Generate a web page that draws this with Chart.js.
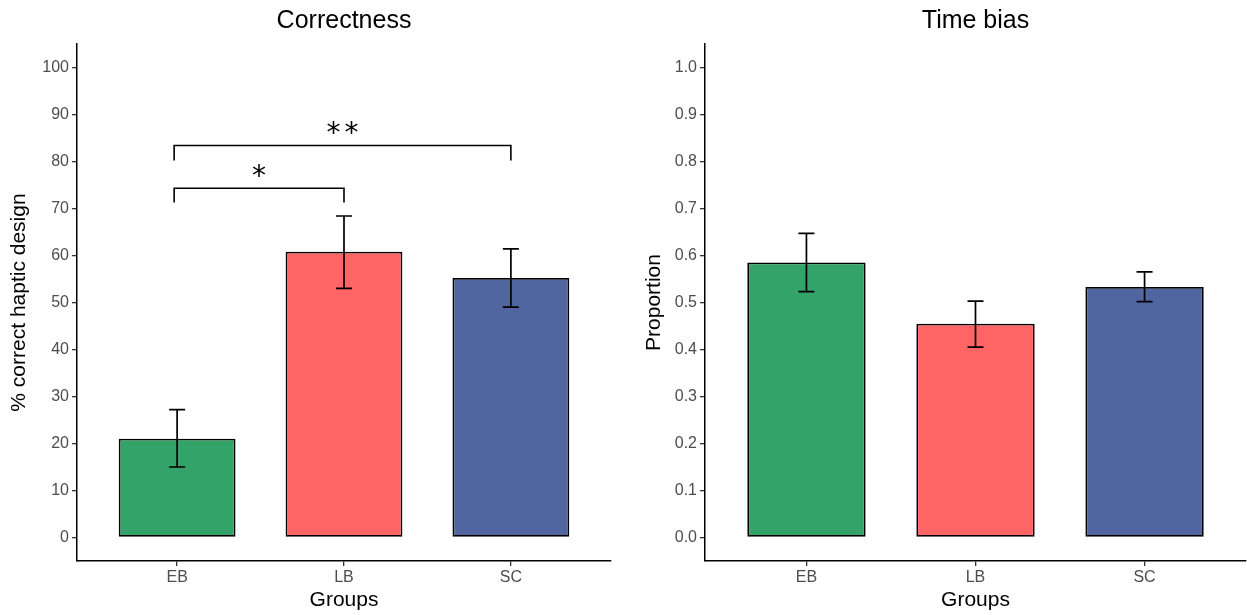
<!DOCTYPE html>
<html>
<head>
<meta charset="utf-8">
<script src="https://cdn.jsdelivr.net/npm/chart.js@4"></script>
<style>
  body { margin: 0; background: #fff; }
  #wrap { position: relative; width: 1247px; height: 615px; }
  .box { position: absolute; top: 0; height: 615px; }
</style>
</head>
<body>
<div id="wrap">
  <div class="box" style="left:0;width:620px"><canvas id="left"></canvas></div>
  <div class="box" style="left:620px;width:627px"><canvas id="right"></canvas></div>
</div>
<script>
// === DATOS ===
const categories = ['EB', 'LB', 'SC'];
const barColors = ['#34A36A', '#FF6565', '#5165A0'];

const correctMean = [21.0, 60.8, 55.2];
const correctLow = [15.0, 53.0, 49.0];
const correctHigh = [27.2, 68.4, 61.4];
const correctTicks = [0, 10, 20, 30, 40, 50, 60, 70, 80, 90, 100];

const timeMean = [0.585, 0.455, 0.533];
const timeLow = [0.523, 0.405, 0.502];
const timeHigh = [0.647, 0.503, 0.565];
const timeTicks = [0, 0.1, 0.2, 0.3, 0.4, 0.5, 0.6, 0.7, 0.8, 0.9, 1.0];

// significance brackets: group indexes, bar height and tip height (data units)
const sigBrackets = [
  { from: 0, to: 1, y: 74.3, tip: 71.3, label: '*' },
  { from: 0, to: 2, y: 83.4, tip: 80.2, label: '**' }
];

const FONT = "'Liberation Sans', Arial, sans-serif";

// === PLUGINS ===
const errorBars = {
  id: 'errorBars',
  afterDatasetsDraw(chart, args, opts) {
    const { ctx, scales: { x, y } } = chart;
    ctx.save();
    ctx.strokeStyle = '#000';
    ctx.lineWidth = 1.7;
    opts.low.forEach((lo, i) => {
      const px = x.getPixelForValue(i + 1);
      const y1 = y.getPixelForValue(lo), y2 = y.getPixelForValue(opts.high[i]);
      ctx.beginPath();
      ctx.moveTo(px, y1); ctx.lineTo(px, y2);
      ctx.moveTo(px - 8, y1); ctx.lineTo(px + 8, y1);
      ctx.moveTo(px - 8, y2); ctx.lineTo(px + 8, y2);
      ctx.stroke();
    });
    ctx.restore();
  }
};

const brackets = {
  id: 'brackets',
  afterDatasetsDraw(chart, args, opts) {
    if (!opts.items) return;
    const { ctx, scales: { x, y } } = chart;
    ctx.save();
    ctx.strokeStyle = '#000';
    ctx.fillStyle = '#000';
    ctx.lineWidth = 1.6;
    ctx.font = "28px 'DejaVu Sans', sans-serif";
    ctx.letterSpacing = '4px';
    ctx.textAlign = 'center';
    ctx.textBaseline = 'middle';
    opts.items.forEach(b => {
      const x1 = x.getPixelForValue(b.from + 1) - 3, x2 = x.getPixelForValue(b.to + 1);
      const yl = y.getPixelForValue(b.y), yt = y.getPixelForValue(b.tip);
      ctx.beginPath();
      ctx.moveTo(x1, yt); ctx.lineTo(x1, yl); ctx.lineTo(x2, yl); ctx.lineTo(x2, yt);
      ctx.stroke();
      ctx.fillText(b.label, (x1 + x2) / 2 + 2, yl - 11);
    });
    ctx.restore();
  }
};

// === GRÁFICOS ===
function makeChart(id, cfg) {
  return new Chart(document.getElementById(id), {
    type: 'bar',
    data: {
      datasets: [{
        data: cfg.mean.map((v, i) => ({ x: i + 1, y: v })),
        backgroundColor: barColors,
        borderColor: '#000',
        borderWidth: 1.8,
        borderSkipped: false,
        barPercentage: 0.7,
        categoryPercentage: 1
      }]
    },
    options: {
      responsive: true,
      maintainAspectRatio: false,
      animation: false,
      layout: { padding: { left: 0, right: cfg.padRight, top: 0, bottom: 0 } },
      plugins: {
        legend: { display: false },
        tooltip: { enabled: false },
        title: {
          display: true,
          text: cfg.title,
          fullSize: false,
          color: '#000',
          font: { family: FONT, size: 25, weight: 'normal' },
          padding: { top: 6, bottom: 8 }
        },
        errorBars: { low: cfg.low, high: cfg.high },
        brackets: { items: cfg.brackets }
      },
      scales: {
        x: {
          type: 'linear',
          offset: false,
          min: 0.4, max: 3.6,
          afterBuildTicks: s => { s.ticks = categories.map((c, i) => ({ value: i + 1 })); },
          afterFit: s => { s.height = 54; },
          ticks: {
            callback: v => categories[v - 1],
            color: '#4D4D4D',
            font: { family: FONT, size: 16 },
            padding: 2,
            maxRotation: 0
          },
          grid: { display: true, offset: false, drawOnChartArea: false, drawTicks: true, tickLength: 5, color: '#333', lineWidth: 1.3 },
          border: { display: true, color: '#000', width: 1.5 },
          title: {
            display: true, text: 'Groups', color: '#000',
            font: { family: FONT, size: 21 },
            padding: { top: 0, bottom: 2 }
          }
        },
        y: {
          min: cfg.yMin, max: cfg.yMax,
          afterBuildTicks: s => { s.ticks = cfg.ticks.map(v => ({ value: v })); },
          afterFit: s => { s.width = cfg.yWidth; },
          ticks: {
            callback: cfg.fmt,
            color: '#4D4D4D',
            font: { family: FONT, size: 16 },
            padding: 3
          },
          grid: { display: true, drawOnChartArea: false, drawTicks: true, tickLength: 5, color: '#333', lineWidth: 1.3 },
          border: { display: true, color: '#000', width: 1.5 },
          title: {
            display: true, text: cfg.yTitle, color: '#000',
            font: { family: FONT, size: 21 },
            padding: { top: cfg.yTitlePad, bottom: 0 }
          }
        }
      }
    },
    plugins: [errorBars, brackets]
  });
}

makeChart('left', {
  title: 'Correctness',
  mean: correctMean, low: correctLow, high: correctHigh,
  ticks: correctTicks, yMin: -5, yMax: 105,
  fmt: v => String(v),
  yTitle: '% correct haptic design', yTitlePad: 7,
  yWidth: 77, padRight: 9,
  brackets: sigBrackets
});

makeChart('right', {
  title: 'Time bias',
  mean: timeMean, low: timeLow, high: timeHigh,
  ticks: timeTicks, yMin: -0.05, yMax: 1.05,
  fmt: v => Number(v).toFixed(1),
  yTitle: 'Proportion', yTitlePad: 22,
  yWidth: 85, padRight: 1,
  brackets: null
});
</script>
</body>
</html>
